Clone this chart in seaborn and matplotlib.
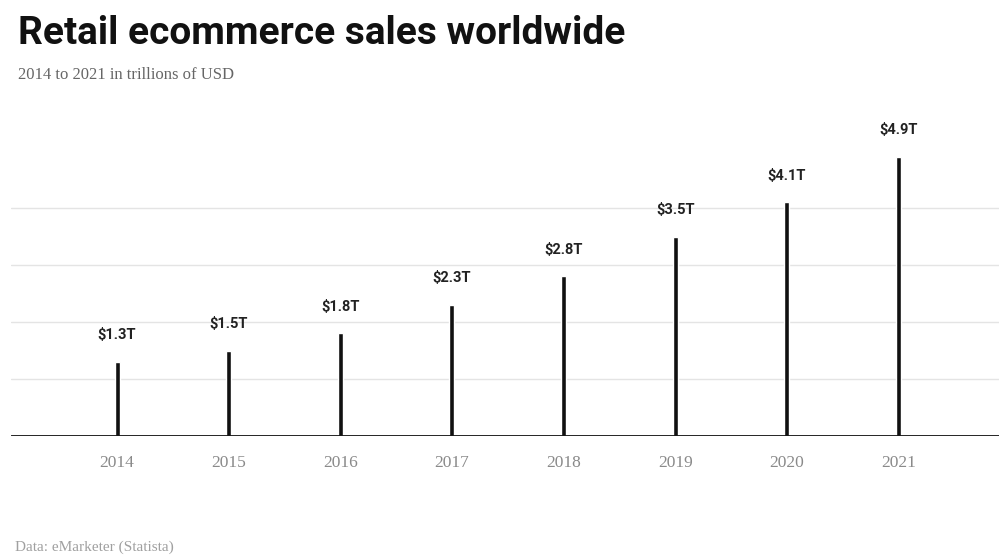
import matplotlib
matplotlib.use("Agg")
import matplotlib.pyplot as plt
import seaborn as sns
import pandas as pd

years = ["2014", "2015", "2016", "2017", "2018", "2019", "2020", "2021"]
sales_trillions = [1.3, 1.5, 1.8, 2.3, 2.8, 3.5, 4.1, 4.9]
value_labels = ["$1.3T", "$1.5T", "$1.8T", "$2.3T", "$2.8T", "$3.5T", "$4.1T", "$4.9T"]
grid_levels = [1, 2, 3, 4]

title = "Retail ecommerce sales worldwide"
subtitle = "2014 to 2021 in trillions of USD"
source = "Data: eMarketer (Statista)"

sns.set_theme(style="white")
plt.rcParams["font.family"] = ["Roboto", "DejaVu Sans"]
serif = ["Liberation Serif", "DejaVu Serif"]

df = pd.DataFrame({"year": years, "sales": sales_trillions})

fig = plt.figure(figsize=(10.01, 5.56), dpi=100)
ax = fig.add_axes([0.011, 0.2158, 0.987, 0.5638])

for g in grid_levels:
    ax.axhline(g, color="#e4e4e4", linewidth=1.0, zorder=0)

sns.barplot(data=df, x="year", y="sales", color="#111111", width=0.045,
            saturation=1, ax=ax, zorder=3)

for i, (v, lab) in enumerate(zip(sales_trillions, value_labels)):
    ax.annotate(lab, (i, v), xytext=(0, 14), textcoords="offset points",
                ha="center", va="bottom", fontsize=10.5, fontweight="bold",
                color="#222222")

ax.axhline(0, color="#111111", linewidth=2.0, zorder=4)
ax.set_xlim(-0.95, 7.9)
ax.set_ylim(0, 5.5)
ax.set_xlabel("")
ax.set_ylabel("")
ax.set_yticks([])
ax.tick_params(axis="x", length=0, pad=14, labelsize=12.5, labelcolor="#8a8a8a")
for t in ax.get_xticklabels():
    t.set_family(serif)
for s in ax.spines.values():
    s.set_visible(False)

fig.text(0.018, 0.940, title, fontsize=28, fontweight="bold", color="#111111",
         va="center", ha="left")
fig.text(0.018, 0.866, subtitle, fontsize=12, color="#666666", va="center",
         ha="left", family=serif)
fig.text(0.015, 0.016, source, fontsize=11, color="#a0a0a0", va="center",
         ha="left", family=serif)

fig.savefig("out.png", dpi=100)
